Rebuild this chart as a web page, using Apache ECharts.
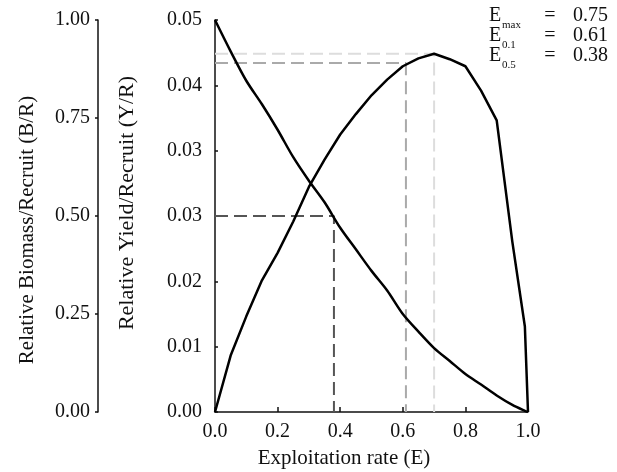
<!DOCTYPE html>
<html><head><meta charset="utf-8">
<script src="https://cdn.jsdelivr.net/npm/echarts@6/dist/echarts.min.js"></script>
<style>html,body{margin:0;padding:0;background:#fff}#c{width:617px;height:472px}</style>
</head><body><div id="c"></div>
<script>
// Exploitation rate (E)
const exploitation = [0, 0.05, 0.10, 0.15, 0.20, 0.25, 0.30, 0.35, 0.40, 0.45, 0.50, 0.55, 0.60, 0.65, 0.70, 0.75, 0.80, 0.85, 0.90, 0.95, 0.99, 1.00];
// Relative yield per recruit (Y/R)
const yieldPerRecruit = [0, 0.0072, 0.0122, 0.0168, 0.0203, 0.0243, 0.0287, 0.0322, 0.0354, 0.0380, 0.0404, 0.0424, 0.0441, 0.0451, 0.0457, 0.0450, 0.0441, 0.0410, 0.0372, 0.0217, 0.0109, 0];
// Relative biomass per recruit (B/R)
const biomassPerRecruit = [1.00, 0.92, 0.845, 0.785, 0.72, 0.65, 0.59, 0.535, 0.47, 0.415, 0.36, 0.31, 0.25, 0.205, 0.163, 0.13, 0.097, 0.07, 0.042, 0.018, 0.003, 0];
// Reference points (dashed guides)
const refE = [0.38, 0.61, 0.70];
const refYR = [0.025, 0.0445, 0.0457];
// Text box
const refNames = ['max', '0.1', '0.5'];
const refValues = ['0.75', '0.61', '0.38'];
// Axis titles
const xTitle = 'Exploitation rate (E)';
const yrTitle = 'Relative Yield/Recruit (Y/R)';
const brTitle = 'Relative Biomass/Recruit (B/R)';
// Axis ranges
const yrMax = 0.05, yrSteps = 6;
const brMax = 1.0, brStep = 0.25;

const FONT = '"Liberation Serif", "Times New Roman", serif';
const FS = 20;   // tick labels
const FT = 21;   // axis titles
const refColors = ['#555555', '#aaaaaa', '#dddddd'];

const chart = echarts.init(document.getElementById('c'), null, {renderer: 'canvas'});

const refSeries = refE.map((e, i) => ({
  type: 'line', yAxisIndex: 0, silent: true, symbol: 'none', z: 1,
  data: [[0, refYR[i]], [e, refYR[i]], [e, 0]],
  lineStyle: {color: refColors[i], width: 2, type: [13, 6]}
}));

const graphics = [];
refNames.forEach((n, i) => {
  const yc = 16 + i * 20;
  graphics.push({type: 'text', x: 489, y: yc, style: {text: 'E', font: FS + 'px ' + FONT, fill: '#111', verticalAlign: 'middle', align: 'left'}});
  graphics.push({type: 'text', x: 502, y: yc + 9, style: {text: n, font: '11px ' + FONT, fill: '#111', verticalAlign: 'middle', align: 'left'}});
  graphics.push({type: 'text', x: 550, y: yc, style: {text: '=', font: FS + 'px ' + FONT, fill: '#111', verticalAlign: 'middle', align: 'center'}});
  graphics.push({type: 'text', x: 573, y: yc, style: {text: refValues[i], font: FS + 'px ' + FONT, fill: '#111', verticalAlign: 'middle', align: 'left'}});
});
// axis titles
graphics.push({type: 'text', x: 344, y: 458, style: {text: xTitle, font: FT + 'px ' + FONT, fill: '#111', align: 'center', verticalAlign: 'middle'}});
graphics.push({type: 'text', x: 127, y: 203, rotation: Math.PI / 2, style: {text: yrTitle, font: (FT + 1) + 'px ' + FONT, fill: '#111', align: 'center', verticalAlign: 'middle'}});
graphics.push({type: 'text', x: 27, y: 230, rotation: Math.PI / 2, style: {text: brTitle, font: FT + 'px ' + FONT, fill: '#111', align: 'center', verticalAlign: 'middle'}});

chart.setOption({
  animation: false,
  backgroundColor: '#fff',
  textStyle: {fontFamily: FONT},
  grid: {left: 215, right: 89, top: 20, bottom: 60, containLabel: false},
  xAxis: {
    type: 'value', min: 0, max: 1, interval: 0.2,
    axisLine: {show: true, lineStyle: {color: '#111', width: 1.5}},
    axisTick: {show: true, inside: true, length: 5, lineStyle: {color: '#111', width: 1.5}},
    axisLabel: {fontSize: FS, color: '#111', fontFamily: FONT, margin: 10, formatter: v => v.toFixed(1)},
    splitLine: {show: false}
  },
  yAxis: [
    {
      type: 'value', position: 'left', min: 0, max: yrMax, interval: yrMax / yrSteps,
      axisLine: {show: true, lineStyle: {color: '#111', width: 1.5}},
      axisTick: {show: true, inside: true, length: 3, lineStyle: {color: '#111', width: 1.5}},
      axisLabel: {fontSize: FS, color: '#111', fontFamily: FONT, margin: 13,
        formatter: v => (Math.round(v * 100 + 1e-6) / 100).toFixed(2)},
      splitLine: {show: false}
    },
    {
      type: 'value', position: 'left', offset: 117, min: 0, max: brMax, interval: brStep,
      axisLine: {show: true, lineStyle: {color: '#111', width: 1.5}},
      axisTick: {show: true, inside: false, length: 3, lineStyle: {color: '#111', width: 1.5}},
      axisLabel: {fontSize: FS, color: '#111', fontFamily: FONT, margin: 8, formatter: v => v.toFixed(2)},
      splitLine: {show: false}
    }
  ],
  series: refSeries.concat([
    {
      type: 'line', yAxisIndex: 0, symbol: 'none', z: 3,
      data: exploitation.map((e, i) => [e, yieldPerRecruit[i]]),
      lineStyle: {color: '#000', width: 2.5}
    },
    {
      type: 'line', yAxisIndex: 1, symbol: 'none', z: 3, smooth: 0.3,
      data: exploitation.map((e, i) => [e, biomassPerRecruit[i]]),
      lineStyle: {color: '#000', width: 2.5}
    }
  ]),
  graphic: graphics
});
</script>
</body></html>
